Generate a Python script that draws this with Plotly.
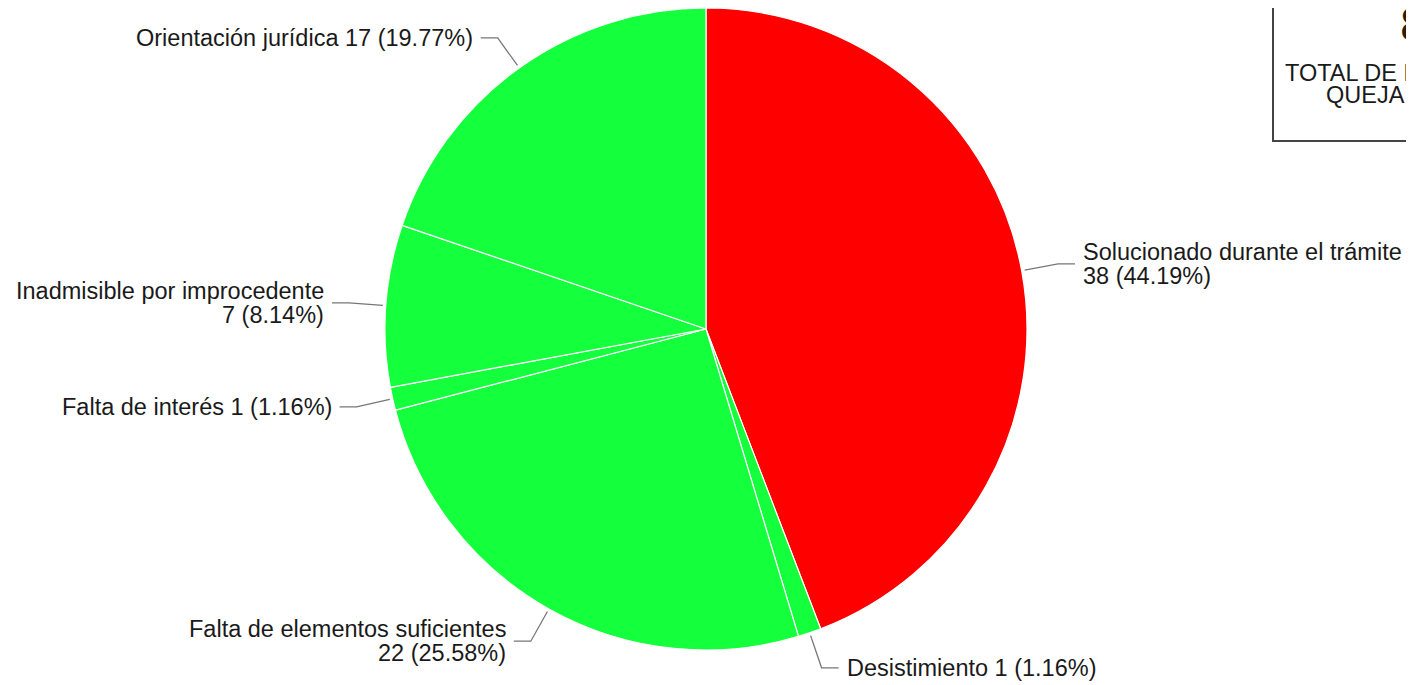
import math
import plotly.graph_objects as go

# ---- data ----
categories = [
    "Solucionado durante el trámite",
    "Desistimiento",
    "Falta de elementos suficientes",
    "Falta de interés",
    "Inadmisible por improcedente",
    "Orientación jurídica",
]
values = [38, 1, 22, 1, 7, 17]
slice_colors = ["#FF0000", "#14FF3C", "#14FF3C", "#14FF3C", "#14FF3C", "#14FF3C"]
wrap_label = [True, False, True, False, True, False]
box_number = "86"
box_lines = ["TOTAL DE EXPEDIENTES DE", "QUEJA CONCLUIDOS"]

# ---- layout geometry (page pixels; the page body has an 8px margin) ----
OFF = 8
W, H = 1414 - OFF, 685 - OFF
CX, CY, R = 706, 329, 321
L1, L2, GAP = 37, 17, 6
FONT = "Liberation Sans, Arial, sans-serif"
FS = 23.5
TXT = "#1a1a1a"


def px(x):
    return (x - OFF) / W


def py(y):
    return 1 - (y - OFF) / H


total = sum(values)
fig = go.Figure()
fig.add_trace(go.Pie(
    labels=categories,
    values=values,
    sort=False,
    direction="clockwise",
    rotation=0,
    marker=dict(colors=slice_colors, line=dict(color="white", width=1.2)),
    textinfo="none",
    hoverinfo="label+value+percent",
    domain=dict(x=[px(CX - R), px(CX + R)],
                y=[max(0.0, py(CY + R)), min(1.0, py(CY - R))]),
    showlegend=False,
))

annotations = []
shapes = []


def add_text(x, y, text, xanchor, size=FS, color=TXT):
    annotations.append(dict(
        x=px(x), y=py(y), xref="paper", yref="paper",
        text=text, showarrow=False, xanchor=xanchor, yanchor="middle",
        font=dict(family=FONT, size=size, color=color),
    ))


cum = 0
for name, v, wrap in zip(categories, values, wrap_label):
    mid = (cum + v / 2) / total * 2 * math.pi
    cum += v
    s, c = math.sin(mid), math.cos(mid)
    x0, y0 = CX + (R + 3) * s, CY - (R + 3) * c
    xe, ye = CX + (R + L1) * s, CY - (R + L1) * c
    side = 1 if s >= 0 else -1
    xh = xe + side * L2
    shapes.append(dict(
        type="path", xref="paper", yref="paper",
        path=f"M {px(x0)} {py(y0)} L {px(xe)} {py(ye)} L {px(xh)} {py(ye)}",
        line=dict(color="#777777", width=1.3),
    ))
    pct = f"{v / total * 100:.2f}%"
    anchor = "left" if side > 0 else "right"
    tx = xh + side * GAP
    if wrap:
        add_text(tx, ye - 12, name, anchor)
        add_text(tx, ye + 12, f"{v} ({pct})", anchor)
    else:
        add_text(tx, ye, f"{name} {v} ({pct})", anchor)

# Summary box (partially outside the page)
BOX_L, BOX_B, BOX_C = 1273, 141, 1446
shapes.append(dict(
    type="rect", xref="paper", yref="paper",
    x0=px(BOX_L), x1=px(BOX_L + 2 * (BOX_C - BOX_L)), y0=py(BOX_B), y1=py(-20),
    line=dict(color="#444444", width=2), fillcolor="rgba(0,0,0,0)",
))
add_text(1398, 25, box_number, "left", size=48, color="#2a1c08")
add_text(BOX_C, 73, box_lines[0], "center")
add_text(BOX_C, 95, box_lines[1], "center")

fig.update_layout(
    width=W, height=H,
    margin=dict(l=0, r=0, t=0, b=0),
    paper_bgcolor="white", plot_bgcolor="white",
    shapes=shapes, annotations=annotations,
)

fig.write_html("out.html")
